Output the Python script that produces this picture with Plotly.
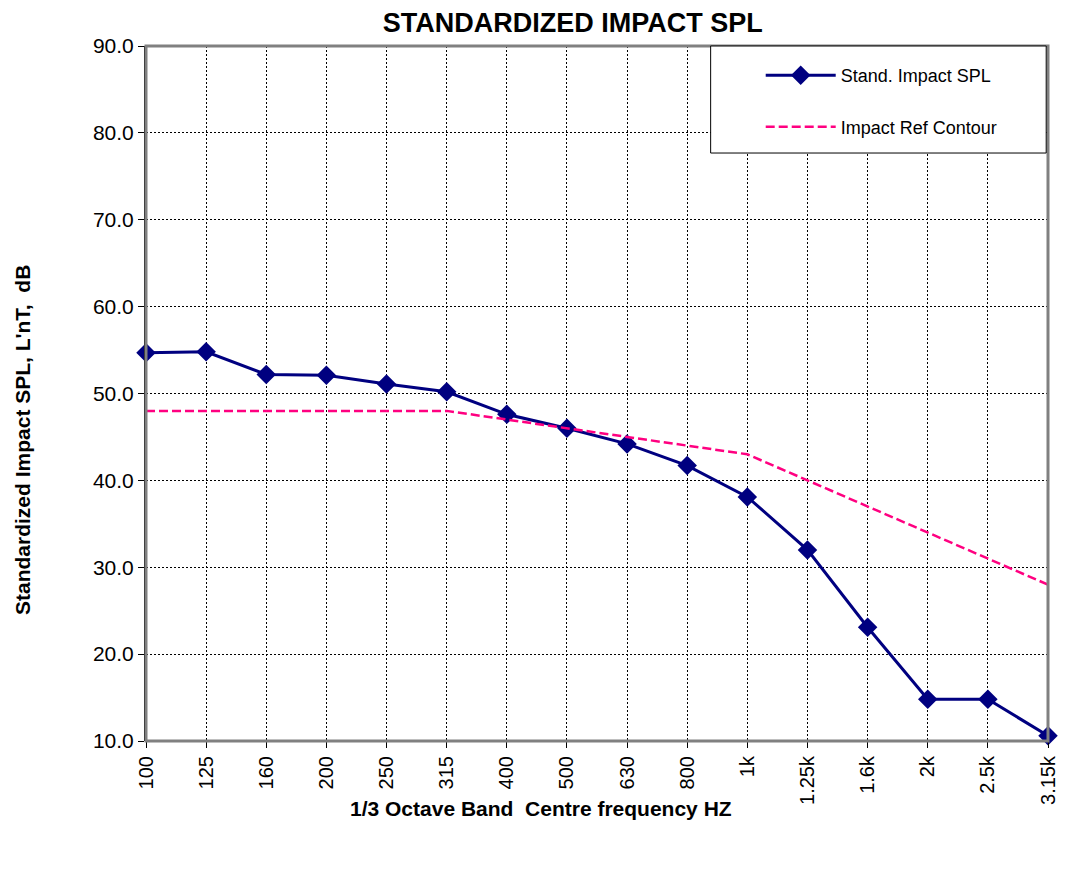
import plotly.graph_objects as go

categories = ["100", "125", "160", "200", "250", "315", "400", "500", "630", "800",
              "1k", "1.25k", "1.6k", "2k", "2.5k", "3.15k"]
impact_spl = [54.7, 54.8, 52.2, 52.1, 51.1, 50.2, 47.6, 46.0, 44.2, 41.7,
              38.1, 32.0, 23.1, 14.8, 14.8, 10.6]
ref_contour = [48, 48, 48, 48, 48, 48, 47, 46, 45, 44, 43, 40, 37, 34, 31, 28]
y_ticks = [10, 20, 30, 40, 50, 60, 70, 80, 90]

xidx = list(range(len(categories)))
font = "Arial, Liberation Sans, sans-serif"

fig = go.Figure()
fig.add_trace(go.Scatter(
    x=xidx, y=impact_spl, name="Stand. Impact SPL", mode="lines+markers",
    line=dict(color="#000080", width=3),
    marker=dict(symbol="diamond", size=15, color="#000080"),
    legendgroup="a", cliponaxis=False))
fig.add_trace(go.Scatter(
    x=xidx, y=ref_contour, name="Impact Ref Contour", mode="lines",
    line=dict(color="#FF0080", width=2.5, dash="9px,4px"),
    legendgroup="b", cliponaxis=False))

fig.update_layout(
    width=1078, height=891,
    margin=dict(l=138, r=38, t=38, b=158),
    paper_bgcolor="white", plot_bgcolor="white",
    font=dict(family=font, color="black", size=20),
    title=dict(text="<b>STANDARDIZED IMPACT SPL</b>", x=0.524, xanchor="center",
               y=0.984, yanchor="middle", font=dict(size=27, family=font)),
    showlegend=True,
    legend=dict(x=0.6815, y=0.984, xanchor="left", yanchor="top",
                bgcolor="rgba(0,0,0,0)", borderwidth=0,
                font=dict(size=18, family=font), itemwidth=70,
                traceorder="grouped", tracegroupgap=25),
)
fig.update_xaxes(
    range=[0, len(categories) - 1], tickmode="array", tickvals=xidx, ticktext=categories,
    tickangle=-90, ticks="outside", ticklen=6, tickcolor="black",
    tickfont=dict(size=20),
    showgrid=True, gridcolor="black", griddash="2px,2px", gridwidth=1,
    showline=False, zeroline=False,
)
fig.update_yaxes(
    range=[10, 90], tickmode="array", tickvals=y_ticks,
    ticktext=[f"{v:.1f}" for v in y_ticks],
    ticks="outside", ticklen=6, tickcolor="black",
    tickfont=dict(size=21),
    showgrid=True, gridcolor="black", griddash="2px,2px", gridwidth=1,
    showline=True, linecolor="black", linewidth=2, zeroline=False,
)
fig.add_annotation(text="<b>1/3 Octave Band  Centre frequency HZ</b>",
                   xref="paper", yref="paper", x=(533 - 138) / 902, y=-(800 - 733) / 695,
                   xanchor="center", yanchor="middle", showarrow=False,
                   font=dict(size=21, family=font))
fig.add_annotation(text="<b>Standardized Impact SPL, L'nT,  dB</b>",
                   xref="paper", yref="paper", x=(14 - 138) / 902, y=1 - (432 - 38) / 695,
                   xanchor="center", yanchor="middle", showarrow=False, textangle=-90,
                   font=dict(size=21, family=font))
# plot area border (gray) and legend box
fig.add_shape(type="rect", xref="paper", yref="paper", x0=0, x1=1, y0=0, y1=1,
              line=dict(color="#808080", width=3), layer="above")
fig.add_shape(type="rect", xref="paper", yref="paper", x0=0.626, x1=0.998, y0=0.846, y1=1.0,
              line=dict(color="black", width=1), fillcolor="white", layer="above")

fig.write_html("out.html")
